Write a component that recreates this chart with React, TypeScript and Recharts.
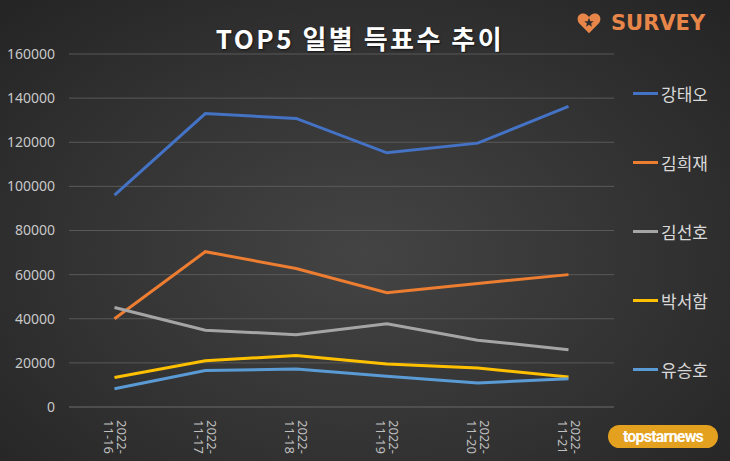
import React from 'react'
import { LineChart, Line, XAxis, YAxis, CartesianGrid } from 'recharts'

const dates = ['2022-11-16', '2022-11-17', '2022-11-18', '2022-11-19', '2022-11-20', '2022-11-21']
const kangTaeO = [96000, 133000, 130800, 115200, 119600, 136300]
const kimHeeJae = [40000, 70400, 62800, 51800, 56000, 60000]
const kimSeonHo = [45100, 34800, 32800, 37700, 30300, 26000]
const parkSeoHam = [13400, 21000, 23300, 19500, 17700, 13600]
const yooSeungHo = [8300, 16500, 17200, 13900, 10900, 12800]
const yTicks = [0, 20000, 40000, 60000, 80000, 100000, 120000, 140000, 160000]

const series = [
  { key: '강태오', values: kangTaeO, color: '#4472c4' },
  { key: '김희재', values: kimHeeJae, color: '#ed7d31' },
  { key: '김선호', values: kimSeonHo, color: '#a5a5a5' },
  { key: '박서함', values: parkSeoHam, color: '#ffc000' },
  { key: '유승호', values: yooSeungHo, color: '#5b9bd5' },
]

const data = dates.map((d, i) => {
  const row: Record<string, string | number> = { date: d }
  series.forEach((s) => (row[s.key] = s.values[i]))
  return row
})

const FONT = '"Noto Sans", "Noto Sans CJK KR", sans-serif'

function DateTick({ x, y, payload }: any) {
  const [yr, m, d] = String(payload.value).split('-')
  return (
    <g transform={`translate(${x},${y + 5}) rotate(90)`}>
      <text x={0} y={-2} fill="#c0c0c0" fontSize={13} fontFamily={FONT} textAnchor="start">
        {yr}-
      </text>
      <text x={0} y={11} fill="#c0c0c0" fontSize={13} fontFamily={FONT} textAnchor="start">
        {m}-{d}
      </text>
    </g>
  )
}

// legend sits outside the chart so it doesn't shrink the plot
function SideLegend() {
  return (
    <div style={{ position: 'absolute', left: 633, top: 59 }}>
      {series.map((s) => (
        <div key={s.key} style={{ height: 69, display: 'flex', alignItems: 'center' }}>
          <span style={{ width: 25, height: 3, background: s.color, display: 'inline-block' }} />
          <span style={{ marginLeft: 3, color: '#d9d9d9', fontSize: 17, fontFamily: '"Noto Sans CJK KR", sans-serif' }}>
            {s.key}
          </span>
        </div>
      ))}
    </div>
  )
}

export default function App() {
  return (
    <div
      style={{
        position: 'absolute',
        left: 0,
        top: 0,
        width: 730,
        height: 461,
        overflow: 'hidden',
        background: 'radial-gradient(ellipse at 50% 55%, #444444 0%, #363636 45%, #242424 100%)',
      }}
    >
      <div
        style={{
          position: 'absolute',
          top: 20,
          left: -5,
          width: 730,
          textAlign: 'center',
          color: '#ffffff',
          fontWeight: 700,
          fontSize: 26,
          letterSpacing: 2.5,
          fontFamily: '"Noto Sans CJK KR", sans-serif',
          lineHeight: '36px',
          textShadow: '1px 1px 2px rgba(0,0,0,0.6)',
        }}
      >
        TOP5 일별 득표수 추이
      </div>

      <div style={{ position: 'absolute', top: 11, left: 577, display: 'flex', alignItems: 'center' }}>
        <svg width={24} height={24} viewBox="0 0 28 26">
          <path d="M14 25 L3 14 C-2 8 2 1 8 2 C11 2.5 13 4.5 14 6 C15 4.5 17 2.5 20 2 C26 1 30 8 25 14 Z" fill="#e8864a" />
          <polygon points="14,7 15.6,11 19.5,11 16.4,13.5 17.5,17.5 14,15 10.5,17.5 11.6,13.5 8.5,11 12.4,11" fill="#2e2e2e" />
        </svg>
        <span
          style={{
            marginLeft: 10,
            color: '#e8864a',
            fontWeight: 900,
            fontSize: 21,
            fontFamily: '"DejaVu Sans", sans-serif',
          }}
        >
          SURVEY
        </span>
      </div>

      <div
        style={{
          position: 'absolute',
          left: 608,
          top: 425,
          width: 110,
          height: 23,
          borderRadius: 12,
          background: '#e3a11f',
          color: '#ffffff',
          fontWeight: 700,
          fontSize: 16,
          lineHeight: '23px',
          textAlign: 'center',
          fontFamily: '"Liberation Sans Narrow", "Roboto", sans-serif',
          letterSpacing: -0.8,
        }}
      >
        topstarnews
      </div>

      <SideLegend />

      <div style={{ position: 'absolute', left: 0, top: 0 }}>
        <LineChart width={730} height={461} data={data} margin={{ top: 54, right: 116, bottom: 4, left: 0 }}>
          <CartesianGrid vertical={false} stroke="#595959" />
          <XAxis
            dataKey="date"
            tick={<DateTick />}
            tickLine={false}
            axisLine={{ stroke: '#595959' }}
            height={50}
            interval={0}
            padding={{ left: 45.5, right: 45.5 }}
          />
          <YAxis
            width={69}
            domain={[0, 160000]}
            ticks={yTicks}
            tickLine={false}
            axisLine={false}
            tickMargin={8}
            tick={{ fill: '#c8c8c8', fontSize: 14, fontFamily: FONT }}
          />
          {series.map((s) => (
            <Line
              key={s.key}
              type="linear"
              dataKey={s.key}
              stroke={s.color}
              strokeWidth={3}
              dot={false}
              isAnimationActive={false}
            />
          ))}
        </LineChart>
      </div>
    </div>
  )
}
